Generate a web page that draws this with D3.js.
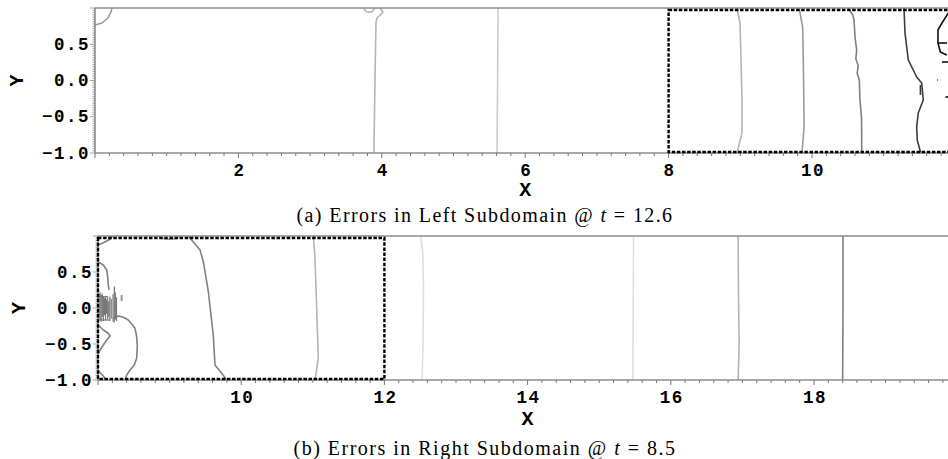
<!DOCTYPE html>
<html>
<head>
<meta charset="utf-8">
<script src="https://cdn.jsdelivr.net/npm/d3@7/dist/d3.min.js"></script>
<style>
  html, body { margin: 0; padding: 0; background: #fff; }
  svg { display: block; }
  .tick-label { font-family: "Liberation Mono", "DejaVu Sans Mono", monospace; font-weight: bold; font-size: 17.5px; letter-spacing: 1.5px; fill: #000; }
  .axis-title { font-family: "Liberation Mono", "DejaVu Sans Mono", monospace; font-weight: bold; font-size: 20px; fill: #000; }
  .caption { font-family: "Liberation Serif", "DejaVu Serif", serif; font-size: 20px; fill: #000; }
</style>
</head>
<body>
<svg id="chart" width="948" height="459"></svg>
<script>
// ---- Panel (a): left subdomain, errors at t = 12.6 ----
const leftXDomain = [0, 12];
const leftXTicks = [2, 4, 6, 8, 10];
const leftWindow = [8, 12];            // overlap region drawn as dashed box

// contour lines, [x, y] in domain units, level = error band index
const leftContours = [
  { level: 4, pts: [[0, 0.766], [0.098, 0.793], [0.18, 0.862], [0.223, 0.945], [0.237, 1]] },
  { level: 3, pts: [[3.74, 1], [3.79, 0.945], [3.86, 0.945], [3.905, 1]] },
  { level: 3, pts: [[3.975, 1], [4.017, 0.945], [3.975, 0.9], [3.933, 0.862], [3.919, 0.793], [3.91, 0.3], [3.905, 0.0], [3.89, -1]] },
  { level: 2, pts: [[5.621, 1], [5.615, 0], [5.607, -1]] },
  { level: 3, pts: [[8.954, 1], [8.996, 0.793], [9.01, 0.283], [9.024, -0.269], [9.024, -0.724], [8.954, -1]] },
  { level: 4, pts: [[9.82, 1], [9.87, 0.738], [9.88, 0.186], [9.89, -0.641], [9.86, -1]] },
  { level: 5, pts: [[10.506, 1], [10.568, 0.903], [10.586, 0.834], [10.6, 0.6], [10.623, 0.421], [10.612, 0.3], [10.645, 0.2], [10.63, 0.1], [10.66, 0.007], [10.669, -0.269], [10.69, -0.5], [10.693, -0.724], [10.693, -1]] },
  { level: 7, pts: [[11.283, 1], [11.297, 0.655], [11.343, 0.283], [11.46, 0.048], [11.53, -0.034], [11.552, -0.269], [11.482, -0.448], [11.46, -0.641], [11.468, -0.821], [11.516, -1]] },
  { level: 7, pts: [[11.512, -0.06], [11.512, -0.2]] },
  { level: 8, pts: [[11.9, 0.93], [11.813, 0.793], [11.757, 0.697], [11.757, 0.517], [11.79, 0.393], [11.88, 0.352]] },
  { level: 8, pts: [[11.757, 0.517], [11.883, 0.517]] },
  { level: 8, pts: [[11.813, 0.255], [11.9, 0.255]] },
  { level: 8, pts: [[11.745, 0.007], [11.755, 0.007]] },
  { level: 8, pts: [[11.86, -0.228], [11.9, -0.228]] }
];

// ---- Panel (b): right subdomain, errors at t = 8.5 ----
const rightXDomain = [8, 20];
const rightXTicks = [10, 12, 14, 16, 18];
const rightWindow = [8, 12];

const rightContours = [
  { level: 5, pts: [[8.0, 0.875], [8.074, 0.907], [8.122, 0.931], [8.168, 0.954], [8.191, 0.982], [8.2, 1]] },
  { level: 4, pts: [[8.85, 1], [8.9, 0.965], [9.0, 0.955], [9.1, 0.965], [9.14, 1]] },
  { level: 5, pts: [[8.0, 0.643], [8.074, 0.597], [8.122, 0.528], [8.135, 0.435], [8.144, 0.319], [8.154, 0.25]] },
  { level: 5, pts: [[8.214, -0.143], [8.284, -0.111], [8.353, -0.129], [8.423, -0.167], [8.471, -0.222], [8.517, -0.282], [8.54, -0.399], [8.549, -0.538], [8.54, -0.699], [8.507, -0.792], [8.447, -0.861], [8.401, -0.931], [8.377, -1]] },
  { level: 5, pts: [[8.0, -0.236], [8.074, -0.306], [8.144, -0.351], [8.168, -0.389], [8.122, -0.444], [8.074, -0.514], [8.028, -0.583], [8.0, -0.653]] },
  { level: 5, pts: [[8.0, -0.861], [8.028, -0.899], [8.074, -0.944], [8.108, -1]] },
  { level: 5, pts: [[9.261, 1], [9.425, 0.806], [9.471, 0.643], [9.541, 0.226], [9.61, -0.375], [9.634, -0.792], [9.728, -0.907], [9.797, -1]] },
  { level: 3, pts: [[11.007, 1], [11.031, 0.69], [11.054, 0.0], [11.077, -0.699], [11.031, -1]] },
  { level: 1, pts: [[12.506, 1], [12.536, 0.78], [12.546, 0.3], [12.54, -0.5], [12.525, -1]] },
  { level: 1, pts: [[15.48, 1], [15.475, 0], [15.47, -1]] },
  { level: 3, pts: [[16.94, 1], [16.945, 0.2], [16.955, -0.5], [16.94, -1]] },
  { level: 5, pts: [[18.405, 1], [18.405, 0], [18.4, -1]] }
];

// oscillating error band next to the interface: x, lower y, upper y
const rightHatch = [
  [8.014, -0.15, 0.2], [8.03, -0.17, 0.22], [8.045, -0.19, 0.18], [8.06, -0.12, 0.2],
  [8.075, -0.18, 0.16], [8.09, -0.1, 0.14], [8.105, -0.17, 0.17], [8.12, -0.08, 0.12],
  [8.135, -0.16, 0.15], [8.15, -0.12, 0.09], [8.165, -0.18, 0.16], [8.185, -0.15, 0.13],
  [8.21, -0.19, 0.19], [8.228, -0.2, 0.3], [8.242, -0.16, 0.22], [8.258, -0.18, 0.15]
];
const rightHatchEdges = [
  [[8.014, 0.157], [8.14, 0.157]],
  [[8.02, -0.167], [8.17, -0.167]]
];
const rightSpeck = [[8.33, 0.14]];

// ---- shared ----
const yDomain = [-1, 1];
const yTicks = [-1.0, -0.5, 0.0, 0.5];

const bandColor = d3.scaleOrdinal()
  .domain([1, 2, 3, 4, 5, 6, 7, 8])
  .range(["#dedede", "#cbcbcb", "#b4b4b4", "#9a9a9a", "#808080", "#666", "#3c3c3c", "#111"]);

const svg = d3.select("#chart");
const fmtY = d3.format(".1f");

function drawPanel(cfg) {
  const x = d3.scaleLinear().domain(cfg.xDomain).range(cfg.xRange);
  const y = d3.scaleLinear().domain(yDomain).range(cfg.yRange);
  const g = svg.append("g");
  const [x0] = cfg.xRange;
  const x1 = 948;
  const [yb, yt] = cfg.yRange;

  const clipId = "clip" + cfg.id;
  svg.append("clipPath").attr("id", clipId)
    .append("rect").attr("x", x0).attr("y", yt).attr("width", x1 - x0).attr("height", yb - yt);

  const plot = g.append("g").attr("clip-path", `url(#${clipId})`);
  const line = d3.line().x(d => x(d[0])).y(d => y(d[1]));

  // contour lines
  plot.selectAll("path.contour").data(cfg.contours).join("path")
    .attr("class", "contour")
    .attr("d", d => line(d.pts))
    .attr("fill", "none")
    .attr("stroke", d => bandColor(d.level))
    .attr("stroke-width", 1.6)
    .attr("stroke-linejoin", "round");

  if (cfg.hatch) {
    plot.selectAll("line.hatch").data(cfg.hatch).join("line")
      .attr("class", "hatch")
      .attr("x1", d => x(d[0])).attr("x2", d => x(d[0]))
      .attr("y1", d => y(d[1])).attr("y2", d => y(d[2]))
      .attr("stroke", "#777").attr("stroke-width", 1.2);
    plot.selectAll("path.hedge").data(cfg.hatchEdges).join("path")
      .attr("class", "hedge")
      .attr("d", line).attr("fill", "none")
      .attr("stroke", "#777").attr("stroke-width", 1.2);
    plot.selectAll("rect.speck").data(cfg.speck).join("rect")
      .attr("class", "speck")
      .attr("x", d => x(d[0]) - 1).attr("y", d => y(d[1]) - 3)
      .attr("width", 2).attr("height", 6).attr("fill", "#999");
  }

  // frame: left, bottom and top edges
  g.append("line").attr("x1", x0).attr("x2", x1).attr("y1", yt).attr("y2", yt)
    .attr("stroke", "#8c8c8c").attr("stroke-width", 1.6);
  g.append("line").attr("x1", x0).attr("x2", x1).attr("y1", yb).attr("y2", yb)
    .attr("stroke", "#8c8c8c").attr("stroke-width", 1.6);
  g.append("line").attr("x1", x0).attr("x2", x0).attr("y1", yt).attr("y2", yb)
    .attr("stroke", "#8c8c8c").attr("stroke-width", 1.6);

  // x minor + major ticks
  const minor = d3.range(Math.round(cfg.xDomain[0] * 5), Math.round(cfg.xDomain[1] * 5) + 1).map(v => v / 5);
  g.selectAll("line.xminor").data(minor).join("line")
    .attr("class", "xminor")
    .attr("x1", d => x(d)).attr("x2", d => x(d))
    .attr("y1", yb).attr("y2", d => yb + (Math.abs(d - Math.round(d / 2) * 2) < 1e-6 ? 5 : 3))
    .attr("stroke", "#777").attr("stroke-width", 1);
  g.selectAll("text.xlab").data(cfg.xTicks).join("text")
    .attr("class", "tick-label xlab")
    .attr("x", d => x(d) + 1).attr("y", yb + 22.5)
    .attr("text-anchor", "middle")
    .text(d => d);

  // y minor + major ticks
  const yMinor = d3.range(-32, 33).map(v => v / 32);
  g.selectAll("line.yminor").data(yMinor).join("line")
    .attr("class", "yminor")
    .attr("x1", x0).attr("x2", d => x0 - (Math.abs(d * 2 - Math.round(d * 2)) < 1e-6 ? 5 : 2.5))
    .attr("y1", d => y(d)).attr("y2", d => y(d))
    .attr("stroke", "#888").attr("stroke-width", 0.8);
  g.selectAll("text.ylab").data(yTicks).join("text")
    .attr("class", "tick-label ylab")
    .attr("x", x0 - 5).attr("y", d => y(d) + 5.5)
    .attr("text-anchor", "end")
    .text(d => fmtY(d));

  // dashed window marking the overlap
  const wx0 = x(cfg.window[0]), wx1 = x(cfg.window[1]);
  g.append("rect")
    .attr("x", wx0).attr("y", yt + 2)
    .attr("width", wx1 - wx0).attr("height", yb - yt - 3)
    .attr("fill", "none").attr("stroke", "#000")
    .attr("stroke-width", 2.4).attr("stroke-dasharray", "3.5,1.6");

  // axis titles
  g.append("text").attr("class", "axis-title")
    .attr("x", x((cfg.xDomain[0] + cfg.xDomain[1]) / 2)).attr("y", yb + cfg.xTitleDy)
    .attr("text-anchor", "middle").text("X");
  g.append("text").attr("class", "axis-title")
    .attr("transform", `translate(${cfg.yTitleX},${y(0)}) rotate(-90)`)
    .attr("text-anchor", "middle").text("Y");

  // caption
  const cap = g.append("text").attr("class", "caption")
    .attr("x", 485).attr("y", cfg.captionY).attr("text-anchor", "middle");
  cap.append("tspan").text(cfg.caption[0]);
  cap.append("tspan").attr("font-style", "italic").text("t");
  cap.append("tspan").text(cfg.caption[1]);
  const natural = cap.node().getComputedTextLength();
  const chars = (cfg.caption[0] + "t" + cfg.caption[1]).length;
  cap.style("letter-spacing", Math.max(0, (cfg.captionWidth - natural) / chars) + "px");
}

drawPanel({
  id: "a", xDomain: leftXDomain, xRange: [95, 955.4], yRange: [153, 8],
  xTicks: leftXTicks, window: leftWindow, contours: leftContours,
  xTitleDy: 43, yTitleX: 23, captionY: 221.5, captionWidth: 377,
  caption: ["(a) Errors in Left Subdomain @ ", " = 12.6"]
});

drawPanel({
  id: "b", xDomain: rightXDomain, xRange: [98, 957.2], yRange: [380, 236],
  xTicks: rightXTicks, window: rightWindow, contours: rightContours,
  hatch: rightHatch, hatchEdges: rightHatchEdges, speck: rightSpeck,
  xTitleDy: 45, yTitleX: 25, captionY: 454.5, captionWidth: 383,
  caption: ["(b) Errors in Right Subdomain @ ", " = 8.5"]
});
</script>
</body>
</html>
